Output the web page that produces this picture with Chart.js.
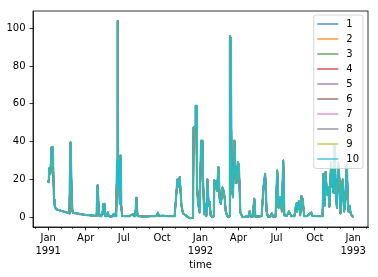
<!DOCTYPE html>
<html>
<head>
<meta charset="utf-8">
<script src="https://cdn.jsdelivr.net/npm/chart.js@4/dist/chart.umd.min.js"></script>
<style>
  body { margin: 0; background: #fff; }
</style>
</head>
<body>
<canvas id="flowChart" width="378" height="277"></canvas>
<script>
// day offsets from 1991-01-01 and the flow
const days = [
  0, 1, 3, 5, 7, 8, 11, 12, 14, 16, 19, 25, 32, 40, 46, 51, 53, 54, 56, 58,
  60, 70, 80, 90, 100, 110, 116, 118, 119, 121, 123, 127, 129, 131, 132, 133, 134, 135, 137, 140,
  143, 145, 150, 155, 157, 159, 161, 163, 165, 166, 167, 168, 169, 170, 171, 172, 173, 174, 175, 177,
  185, 195, 203, 205, 209, 211, 212, 214, 217, 230, 245, 255, 260, 263, 265, 275, 285, 295, 303, 305.6,
  309.7, 312.8, 315.2, 319.3, 323, 329.6, 335, 340, 346, 347, 348.5, 352, 353.5, 355, 356.6, 359, 363, 366, 367, 369.6,
  371, 374, 377.5, 379, 381.5, 384.6, 387, 389.4, 392.5, 397, 398, 401, 404.5, 408, 411, 414, 417.4, 420.5, 423, 425.5,
  428.4, 432, 434.5, 435.5, 437.3, 439.7, 442.8, 446.2, 448.5, 451, 454.8, 457, 460.5, 466, 475, 480, 482.8, 485, 490, 494,
  496.4, 505, 511.5, 516, 520, 523.5, 526.6, 533, 536, 539, 545, 549, 552, 557, 560, 563.4, 566, 572, 577, 583,
  590, 594.5, 596, 600.7, 604, 607, 610, 613.5, 620, 630.4, 633, 645, 657.5, 660, 662, 665, 668, 671, 674, 678,
  681, 684, 686, 689, 692, 695, 698, 700.6, 703.7, 706, 709.4, 712.5, 715.6, 719, 722, 725, 728.6, 730
];
const flow = [
  19.5, 18.5, 26, 23, 31, 37, 37, 25, 9, 5.5, 4.2, 3.8, 3.3, 2.8, 2.4, 1.9, 39.5, 36, 12, 3,
  2.3, 1.9, 1.5, 1.2, 1.0, 0.8, 0.7, 16.8, 15, 3, 0.6, 0.5, 2.5, 6.7, 4, 2, 7, 5.5, 0.6, 0.5,
  2.5, 0.5, 0.4, 0.5, 1.8, 0.6, 2, 0.5, 30, 104, 60, 16, 15.4, 30, 17, 7, 32.6, 30, 6.3, 0.7,
  0.5, 0.6, 1.5, 0.6, 0.6, 10.2, 7, 1, 0.5, 0.4, 0.5, 0.6, 0.8, 2.4, 0.6, 0.8, 0.5, 0.5, 0.6, 8,
  20, 16, 21.2, 6.3, 2, 1, 0, -0.5, -0.4, 0, 47.5, 48, 59, 59, 17, 8, 2.5, 35, 40.5, 40.5,
  20, 1.5, 7, 0.5, 20, 6, 8, 1, 0, 0.5, 19.5, 18.5, 14, 26.5, 9.6, 7, 15.7, 14, 10, 3,
  1, 0, 0.5, 95.8, 95, 17, 10.5, 40.5, 25.5, 18, 29, 27.6, 2.5, 0, 0.3, 0.3, 3.2, 0.3, 0.3, 9.8,
  0.3, 0.4, 0.5, 16, 23, 3, 0.3, 0.4, 2, 0.3, 0.4, 24.7, 5, 10.7, 3, 30, 1, 0.8, 3, 0.5,
  0.5, 7.2, 3, 8.4, 1, 11.2, 9.5, 0.5, 0.5, 2.5, 0.8, 0.5, 0.5, 23, 6, 24, 12, 16, 5.5, 29,
  17, 13, 38, 13, 5, 29, 20, 2, 13, 20, 3, 10, 28, 3, 6, 2, 0.5, 0.4
];

const members = ['1', '2', '3', '4', '5', '6', '7', '8', '9', '10'];
const colors = ['#1f77b4', '#ff7f0e', '#2ca02c', '#d62728', '#9467bd',
                '#8c564b', '#e377c2', '#7f7f7f', '#bcbd22', '#17becf'];
const yTicks = [0, 20, 40, 60, 80, 100];
const monthNames = ['Jan', 'Feb', 'Mar', 'Apr', 'May', 'Jun', 'Jul', 'Aug', 'Sep', 'Oct', 'Nov', 'Dec'];

const DAY = 86400000;
const origin = Date.UTC(1991, 0, 1);
const xMin = -36.5, xMax = 766.5;

// month starts inside the axis range
const monthTicks = [];
for (let y = 1990; y <= 1993; y++) {
  for (let m = 0; m < 12; m++) {
    const d = (Date.UTC(y, m, 1) - origin) / DAY;
    if (d >= xMin && d <= xMax) monthTicks.push({ d, y, m });
  }
}
const quarterTicks = monthTicks.filter(t => t.m % 3 === 0);

const font = { family: '"DejaVu Sans", sans-serif', size: 10 };

const withAlpha = (hex, a) => {
  const n = parseInt(hex.slice(1), 16);
  return `rgba(${n >> 16}, ${(n >> 8) & 255}, ${n & 255}, ${a})`;
};

const points = days.map((d, i) => ({ x: d, y: flow[i] }));

// matplotlib style legend inside the upper right corner
const legendBox = {
  id: 'legendBox',
  afterDraw(chart) {
    const { ctx, chartArea } = chart;
    const sets = chart.data.datasets;
    const padL = 3.5, padR = 4, handle = 21, gap = 8, row = 15;
    ctx.save();
    ctx.font = '10px "DejaVu Sans", sans-serif';
    const textW = Math.max(...sets.map(d => ctx.measureText(d.label).width));
    const w = padL + handle + gap + textW + padR;
    const h = 18 + (sets.length - 1) * row + 0.5;
    const x = chartArea.right - 5 - w;
    const y = chartArea.top + 4;
    ctx.beginPath();
    ctx.roundRect(x, y, w, h, 2.5);
    ctx.fillStyle = 'rgba(255, 255, 255, 0.8)';
    ctx.fill();
    ctx.lineWidth = 1;
    ctx.strokeStyle = 'rgba(204, 204, 204, 0.8)';
    ctx.stroke();
    sets.forEach((d, i) => {
      const cy = y + 9 + i * row;
      ctx.beginPath();
      ctx.moveTo(x + padL, cy);
      ctx.lineTo(x + padL + handle, cy);
      ctx.lineWidth = 1.5;
      ctx.strokeStyle = withAlpha(colors[i], 0.8);
      ctx.stroke();
      ctx.fillStyle = '#000';
      ctx.textBaseline = 'middle';
      ctx.textAlign = 'left';
      ctx.fillText(d.label, x + padL + handle + gap, cy + 0.5);
    });
    ctx.restore();
  }
};

// full box around the axes
const frame = {
  id: 'frame',
  afterDatasetsDraw(chart) {
    const { ctx, chartArea: a } = chart;
    ctx.save();
    ctx.lineWidth = 0.8;
    ctx.strokeStyle = '#000';
    ctx.strokeRect(a.left, a.top, a.right - a.left, a.bottom - a.top);
    ctx.restore();
  }
};

new Chart(document.getElementById('flowChart').getContext('2d'), {
  type: 'line',
  data: {
    datasets: members.map((name, i) => ({
      label: name,
      data: points,
      borderColor: colors[i],
      borderWidth: i === 7 ? 2.2 : 1.5,
      pointRadius: 0,
      tension: 0,
      borderJoinStyle: 'round',
      order: members.length - i
    }))
  },
  options: {
    responsive: false,
    animation: false,
    devicePixelRatio: 1,
    layout: { padding: { top: 11, right: 10, left: 0, bottom: 0 } },
    plugins: {
      legend: { display: false },
      tooltip: { enabled: false }
    },
    scales: {
      xm: {
        type: 'linear',
        position: 'bottom',
        weight: -1,
        min: xMin,
        max: xMax,
        afterBuildTicks: s => { s.ticks = monthTicks.map(t => ({ value: t.d })); },
        afterFit: s => { s.height = 0; },
        ticks: { display: false },
        grid: { drawOnChartArea: false, tickLength: 2, tickColor: '#000', tickWidth: 0.6 },
        border: { display: false }
      },
      x: {
        type: 'linear',
        position: 'bottom',
        weight: 0,
        min: xMin,
        max: xMax,
        afterBuildTicks: s => { s.ticks = quarterTicks.map(t => ({ value: t.d })); },
        afterFit: s => { s.height = 50; },
        ticks: {
          autoSkip: false,
          maxRotation: 0,
          padding: 1,
          color: '#000',
          font: { ...font, lineHeight: 1.35 },
          callback: v => {
            const t = quarterTicks.find(q => q.d === v);
            if (!t) return '';
            return t.m === 0 ? [monthNames[t.m], String(t.y)] : monthNames[t.m];
          }
        },
        grid: { drawOnChartArea: false, tickLength: 3.5, tickColor: '#000', tickWidth: 0.8 },
        border: { color: '#000', width: 0.8 },
        title: { display: true, text: 'time', color: '#000', font, padding: { top: 0, bottom: 6 } }
      },
      y: {
        type: 'linear',
        min: -5.2,
        max: 109.2,
        afterBuildTicks: s => { s.ticks = yTicks.map(v => ({ value: v })); },
        afterFit: s => { s.width = 33; },
        ticks: { color: '#000', font, padding: 4 },
        grid: { drawOnChartArea: false, tickLength: 3.5, tickColor: '#000', tickWidth: 0.8 },
        border: { color: '#000', width: 0.8 }
      }
    }
  },
  plugins: [frame, legendBox]
});
</script>
</body>
</html>
